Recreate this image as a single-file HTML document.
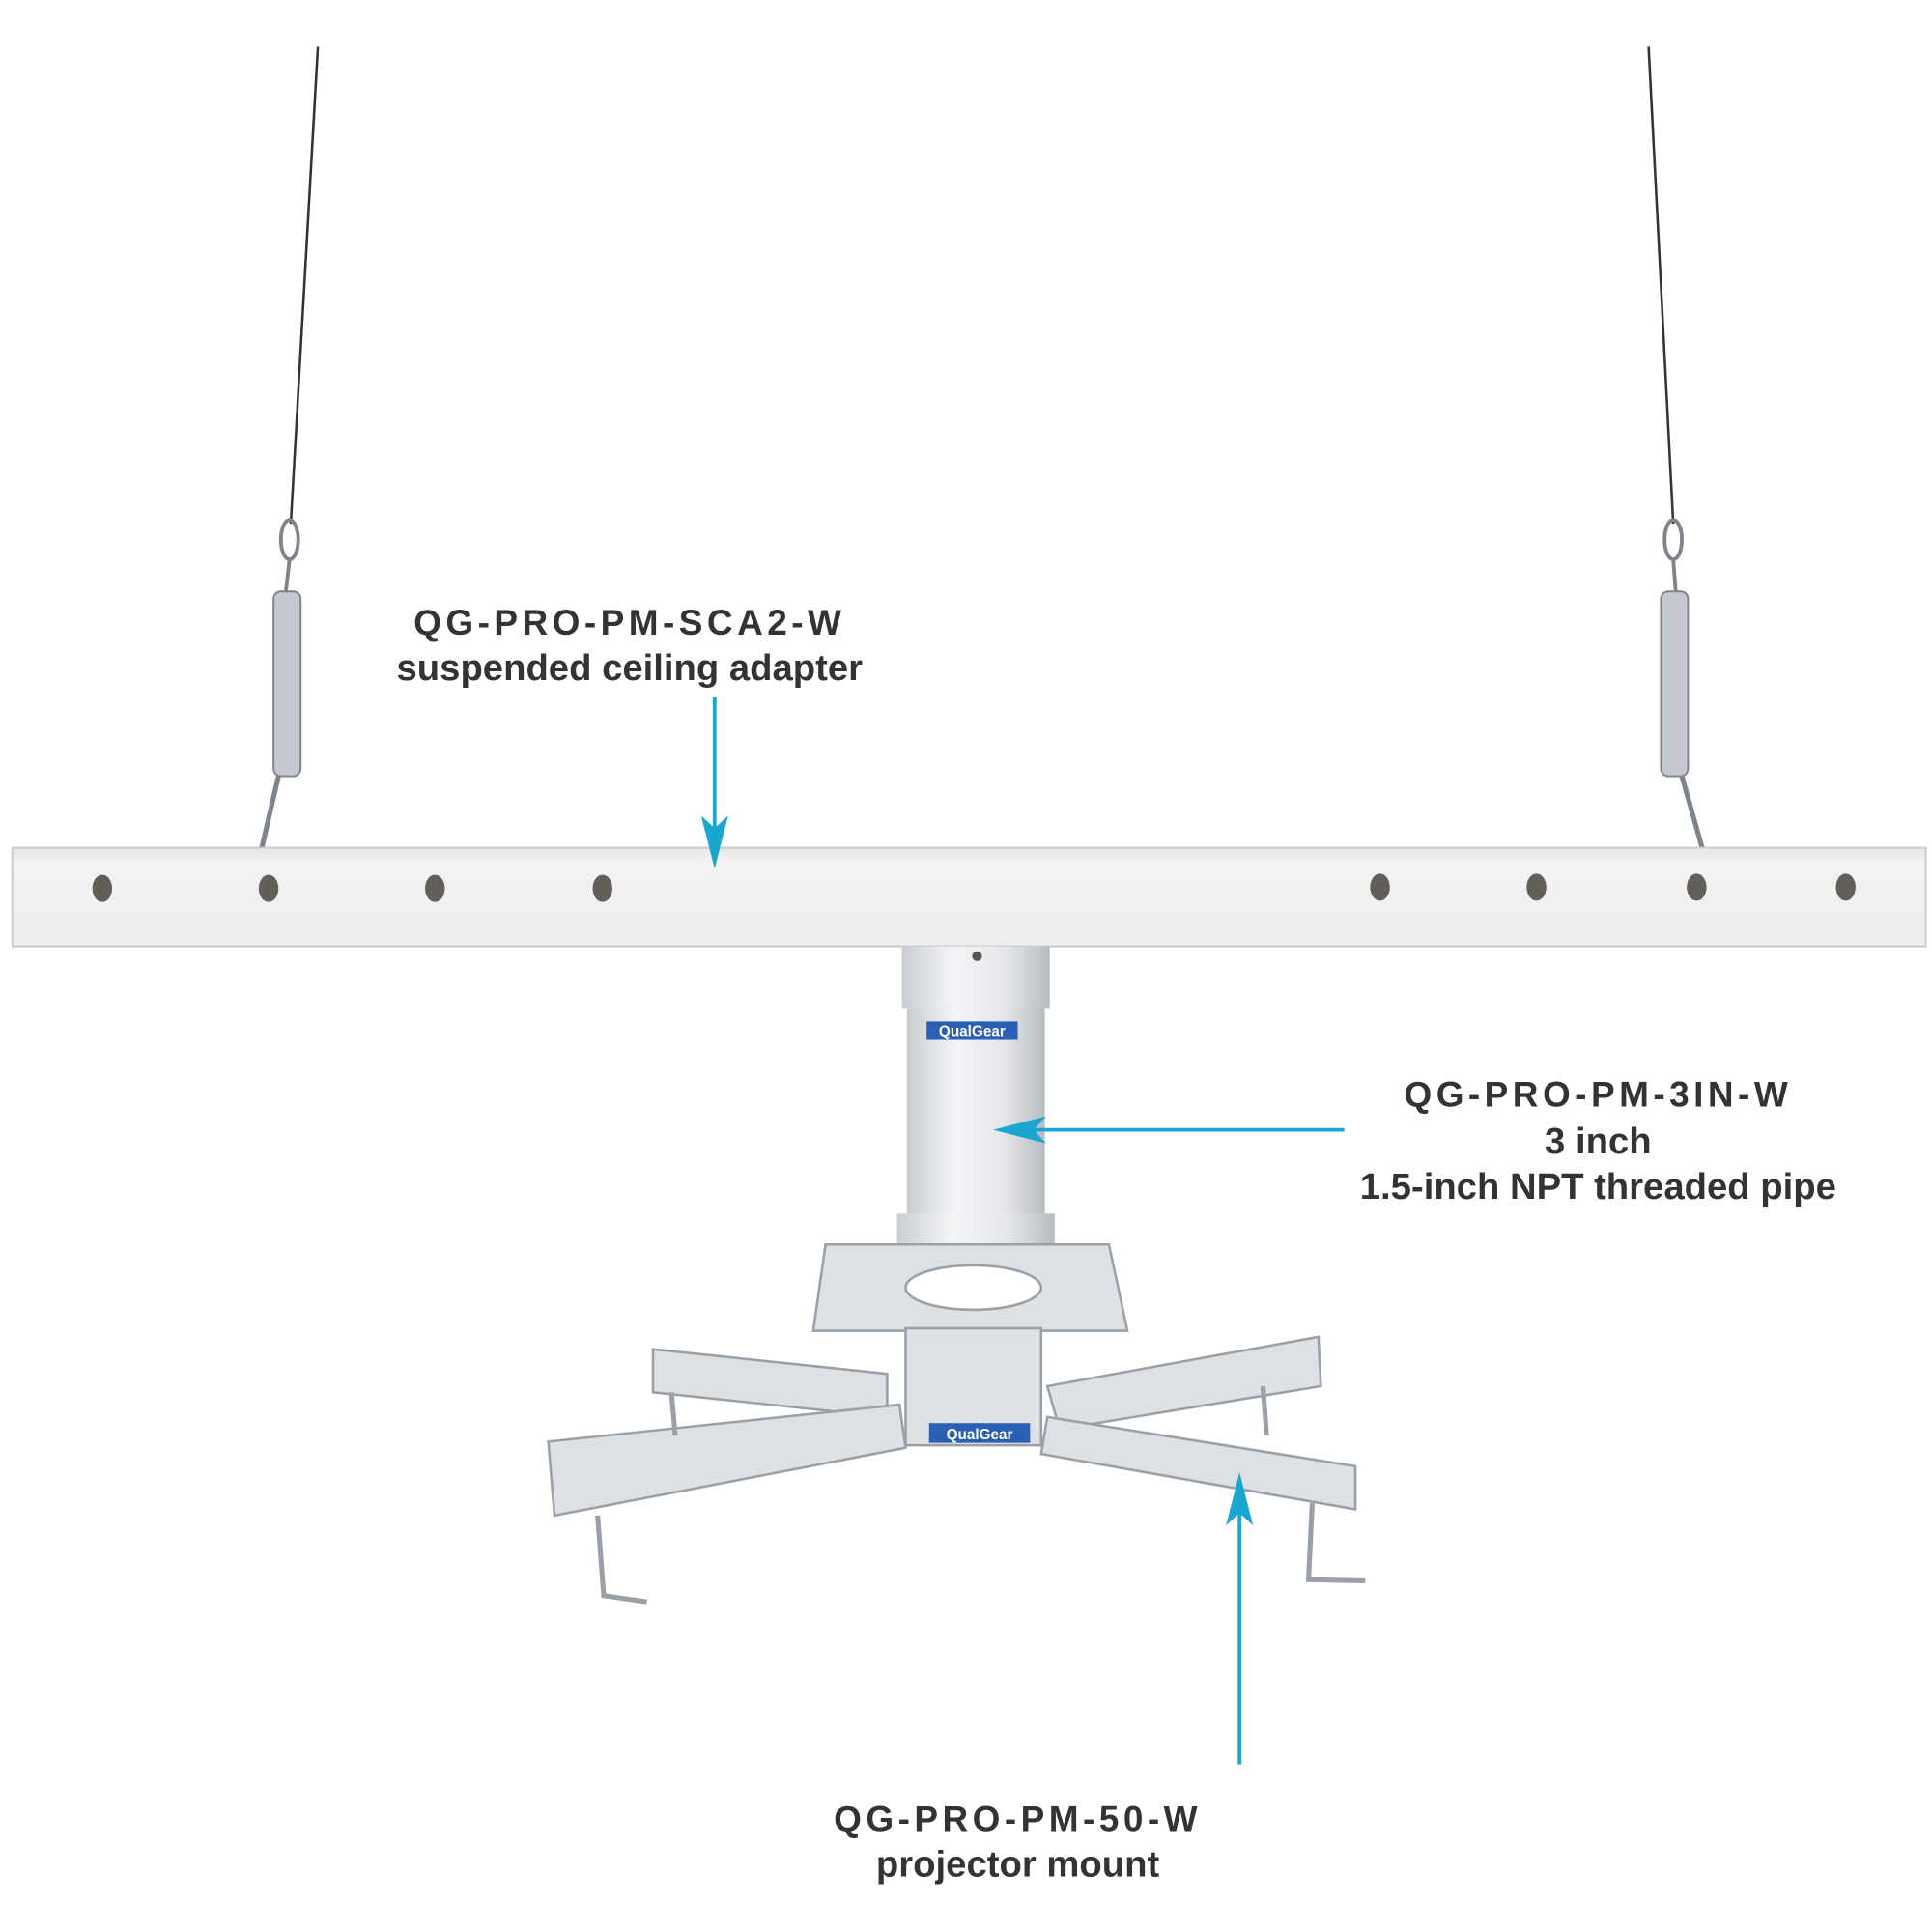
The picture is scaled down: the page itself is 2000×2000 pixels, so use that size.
<!DOCTYPE html>
<html><head><meta charset="utf-8"><style>
html,body{margin:0;padding:0;background:#fff;}
svg{display:block;}
text{font-family:"Liberation Sans",sans-serif;font-weight:bold;fill:#333;}
</style></head><body>
<svg width="2000" height="2000" viewBox="0 0 1568 1568" xmlns="http://www.w3.org/2000/svg">
<defs>
<linearGradient id="pipe" x1="0" x2="1" y1="0" y2="0">
<stop offset="0" stop-color="#c9cdd2"/><stop offset="0.35" stop-color="#f4f5f7"/><stop offset="0.7" stop-color="#e4e6ea"/><stop offset="1" stop-color="#b8bcc2"/></linearGradient>
<linearGradient id="bar" x1="0" x2="0" y1="0" y2="1">
<stop offset="0" stop-color="#e2e4e6"/><stop offset="0.15" stop-color="#f3f3f2"/><stop offset="1" stop-color="#ecedec"/></linearGradient>
</defs>
<!-- wires -->
<line x1="258" y1="38" x2="236" y2="425" stroke="#333" stroke-width="2"/>
<line x1="1338" y1="38" x2="1358" y2="425" stroke="#333" stroke-width="2"/>
<!-- turnbuckles -->
<g fill="#c4c9cf" stroke="#7d848c" stroke-width="1.5">
<ellipse cx="235" cy="438" rx="7" ry="16" fill="none" stroke-width="3"/>
<path d="M235,454 L232,480" fill="none" stroke-width="3"/>
<rect x="222" y="480" width="22" height="150" rx="6"/>
<path d="M226,630 L212,690 Q212,728 224,722" fill="none" stroke-width="4"/>
<ellipse cx="1358" cy="438" rx="7" ry="16" fill="none" stroke-width="3"/>
<path d="M1358,454 L1360,480" fill="none" stroke-width="3"/>
<rect x="1348" y="480" width="22" height="150" rx="6"/>
<path d="M1365,630 L1382,690 Q1384,728 1372,722" fill="none" stroke-width="4"/>
</g>
<!-- bar -->
<rect x="10" y="688" width="1553" height="80" fill="url(#bar)" stroke="#c8cacc" stroke-width="1.5"/>
<g fill="#625e58">
<ellipse cx="83" cy="721" rx="8" ry="11"/><ellipse cx="218" cy="721" rx="8" ry="11"/>
<ellipse cx="353" cy="721" rx="8" ry="11"/><ellipse cx="489" cy="721" rx="8" ry="11"/>
<ellipse cx="1120" cy="720" rx="8" ry="11"/><ellipse cx="1247" cy="720" rx="8" ry="11"/>
<ellipse cx="1377" cy="720" rx="8" ry="11"/><ellipse cx="1498" cy="720" rx="8" ry="11"/>
</g>
<!-- pipe -->
<rect x="732" y="768" width="120" height="50" fill="url(#pipe)"/>
<rect x="736" y="818" width="112" height="170" fill="url(#pipe)"/>
<rect x="728" y="985" width="128" height="30" fill="url(#pipe)"/>
<circle cx="793" cy="776" r="4" fill="#555"/>
<rect x="752" y="829" width="74" height="15" fill="#2b5fb3"/>
<text x="789" y="841" font-size="12" text-anchor="middle" style="fill:#fff">QualGear</text>
<!-- mount -->
<g fill="#dde0e4" stroke="#9aa0a7" stroke-width="2">
<path d="M670,1010 L900,1010 L915,1080 L660,1080 Z"/>
<ellipse cx="790" cy="1045" rx="55" ry="18" fill="#fff"/>
<rect x="735" y="1078" width="110" height="95"/>
<path d="M530,1095 L720,1115 L720,1150 L530,1130 Z"/>
<path d="M445,1170 L730,1140 L735,1175 L450,1230 Z"/>
<path d="M850,1125 L1070,1085 L1072,1125 L860,1160 Z"/>
<path d="M850,1150 L1100,1190 L1100,1225 L845,1180 Z"/>
<path d="M485,1230 L490,1295 L525,1300" fill="none" stroke-width="4"/>
<path d="M1065,1220 L1062,1282 L1108,1283" fill="none" stroke-width="4"/>
<path d="M545,1130 L548,1165 M1025,1125 L1028,1165" fill="none" stroke-width="4"/>
</g>
<rect x="754" y="1155" width="82" height="16" fill="#2b5fb3"/>
<text x="795" y="1168" font-size="12" text-anchor="middle" style="fill:#fff">QualGear</text>
<!-- arrows -->
<g stroke="#1aa6cf" stroke-width="3" fill="none">
<line x1="580" y1="566" x2="580" y2="680"/>
<line x1="1091" y1="917" x2="830" y2="917"/>
<line x1="1006" y1="1432" x2="1006" y2="1220"/>
</g>
<g fill="#1aa6cf">
<path d="M580,705 L569,662 L580,672 L591,662 Z"/>
<path d="M806,917 L849,906 L839,917 L849,928 Z"/>
<path d="M1006,1195 L995,1238 L1006,1228 L1017,1238 Z"/>
</g>
<!-- labels -->
<text x="511" y="515" font-size="29" text-anchor="middle" letter-spacing="3.5">QG-PRO-PM-SCA2-W</text>
<text x="511" y="552" font-size="30" text-anchor="middle">suspended ceiling adapter</text>
<text x="1297" y="898" font-size="29" text-anchor="middle" letter-spacing="3.5">QG-PRO-PM-3IN-W</text>
<text x="1297" y="936" font-size="30" text-anchor="middle">3 inch</text>
<text x="1297" y="973" font-size="30" text-anchor="middle">1.5-inch NPT threaded pipe</text>
<text x="826" y="1486" font-size="29" text-anchor="middle" letter-spacing="3.5">QG-PRO-PM-50-W</text>
<text x="826" y="1523" font-size="30" text-anchor="middle">projector mount</text>
</svg>
</body></html>
